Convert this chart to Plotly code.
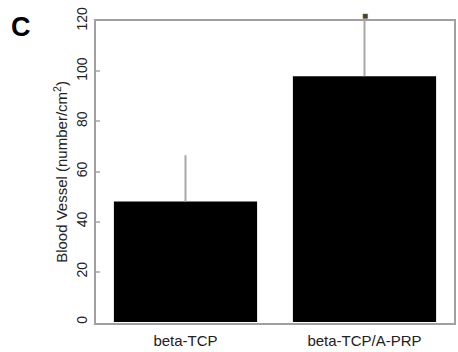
import plotly.graph_objects as go

categories = ["beta-TCP", "beta-TCP/A-PRP"]
values = [48, 98]
errors = [18.5, 24]
y_ticks = [0, 20, 40, 60, 80, 100, 120]
y_range = [-0.4, 120]

fig = go.Figure()
fig.add_trace(go.Bar(
    x=categories, y=values,
    marker=dict(color="black", line=dict(width=0)),
    error_y=dict(type="data", array=errors, symmetric=False, arrayminus=[0, 0],
                 color="#a8a8a8", thickness=2, width=0),
    width=0.8,
))

# end of the error bar that reaches beyond the top of the axis (paper coords from data)
cap_paper_y = (values[1] + errors[1] - y_range[0]) / (y_range[1] - y_range[0])
cap_paper_x = (1 - (-0.5)) / 2.0  # category index 1 on a [-0.5, 1.5] axis

fig.update_layout(
    width=458, height=352,
    margin=dict(l=96, r=2, t=21, b=29),
    paper_bgcolor="white", plot_bgcolor="white",
    showlegend=False,
    font=dict(family="Liberation Sans, Arial, sans-serif", size=14, color="#222222"),
    xaxis=dict(
        showline=True, linecolor="#a0a0a0", linewidth=2, mirror=True,
        ticks="", showgrid=False, tickfont=dict(size=15, color="#222222"),
        range=[-0.5, 1.5], ticklabelstandoff=3,
    ),
    yaxis=dict(
        range=y_range, tickvals=y_ticks, ticktext=[str(v) for v in y_ticks],
        showline=True, linecolor="#a0a0a0", linewidth=2, mirror=True,
        ticks="inside", ticklen=4, tickcolor="#bbbbbb", tickwidth=1.5,
        showgrid=False, zeroline=False, tickangle=-90, ticklabelstandoff=1,
        tickfont=dict(size=14, color="#222222"),
        title=dict(text="Blood Vessel (number/cm<sup>2</sup>)", font=dict(size=15, color="#222222"), standoff=3),
    ),
    annotations=[
        dict(text="<b>C</b>", x=-87/360, y=1 + 11/302, xref="paper", yref="paper",
             showarrow=False, xanchor="left", yanchor="top",
             font=dict(size=27, color="black")),
        dict(text="■", x=cap_paper_x, y=cap_paper_y, xref="paper", yref="paper",
             showarrow=False, xanchor="center", yanchor="middle",
             font=dict(size=10, color="#444444")),
    ],
)

fig.write_html("out.html")
